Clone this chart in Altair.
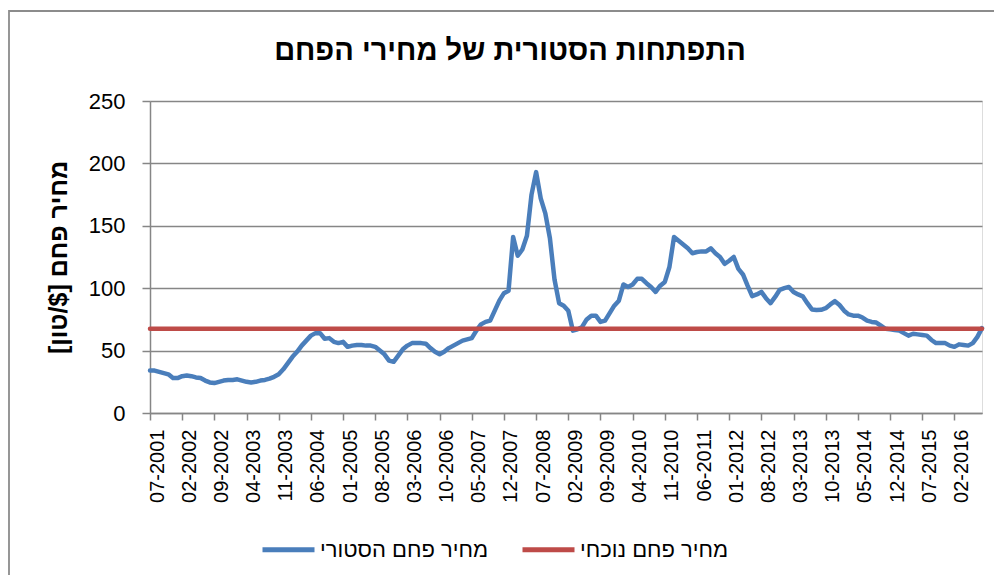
import altair as alt
import pandas as pd

# Categories: monthly, 07-2001 .. 08-2016
months = pd.date_range("2001-07-01", periods=182, freq="MS").strftime("%m-%Y").tolist()

x_tick_labels = [
    "07-2001", "02-2002", "09-2002", "04-2003", "11-2003", "06-2004", "01-2005",
    "08-2005", "03-2006", "10-2006", "05-2007", "12-2007", "07-2008", "02-2009",
    "09-2009", "04-2010", "11-2010", "06-2011", "01-2012", "08-2012", "03-2013",
    "10-2013", "05-2014", "12-2014", "07-2015", "02-2016",
]
y_tick_values = [0, 50, 100, 150, 200, 250]

historical = [
    34, 34, 33, 32, 31, 28, 28, 29.5, 30, 29.5,
    28.5, 28, 26, 24.5, 24, 25, 26, 26.5, 26.5, 27,
    26, 25, 24.5, 25, 26, 26.5, 27.5, 29, 31, 35,
    40, 45, 49, 54, 58, 62, 64, 64, 59.5, 60,
    57, 56, 57, 53, 54, 54.5, 54.5, 54, 54, 53,
    50, 47, 42, 41, 46, 51, 54, 56, 56, 56,
    55.5, 52, 49, 47, 49, 52, 54, 56, 58, 59,
    60, 66, 71, 73, 74, 82, 90, 96, 98, 141,
    126, 131, 142, 175, 193, 172, 160, 140, 107, 88,
    86, 82, 66, 67, 69, 75, 78, 78, 73, 74,
    80, 86, 90, 103, 101, 103, 107.5, 107.5, 104, 101,
    97, 102, 105, 117, 141, 138, 135, 132, 128, 129,
    129.5, 129.5, 132, 128, 125, 119.5, 122, 125, 115.5, 111,
    102, 93.6, 95, 97, 92, 88, 93, 98.7, 100, 101,
    97, 95, 93.5, 88, 83, 82.5, 82.7, 84, 87, 89.6,
    86.5, 82, 79, 78, 78, 76.5, 74, 73, 72.5, 70,
    67.5, 67, 66.5, 66, 64, 62, 63.5, 63, 62.5, 62,
    58.5, 56, 56, 56, 54, 53, 55, 54.5, 54, 56,
    61, 68,
]
current_price = 67.5

series_names = ["מחיר פחם הסטורי", "מחיר פחם נוכחי"]
series_colors = ["#4A7EBB", "#BE4B48"]

title_text = "התפתחות הסטורית של מחירי הפחם"
y_title = "מחיר פחם [$/טון]" + "\u200F"

FONT = "Liberation Sans"
GRAY = "#868686"

df = pd.DataFrame({
    "month": months + months,
    "price": historical + [current_price] * len(months),
    "series": [series_names[0]] * len(months) + [series_names[1]] * len(months),
})

lines = alt.Chart(df).mark_line(
    strokeWidth=4.5, strokeCap="round", strokeJoin="round"
).encode(
    x=alt.X(
        "month:O", sort=months,
        scale=alt.Scale(type="point", padding=0),
        axis=alt.Axis(
            values=x_tick_labels, title=None, labelAngle=270,
            labelFont=FONT, labelFontSize=20, labelColor="black",
            labelPadding=9, labelOverlap=False, labelOffset=7,
            domainColor=GRAY, domainWidth=1.5,
            tickColor=GRAY, tickWidth=1.5, tickSize=7, grid=False,
        ),
    ),
    y=alt.Y(
        "price:Q",
        scale=alt.Scale(domain=[0, 250], nice=False),
        axis=alt.Axis(
            values=y_tick_values, title=y_title,
            titleFont=FONT, titleFontSize=25, titleFontWeight="bold",
            titleColor="black", titleAngle=270, titleAlign="center",
            titleBaseline="middle", titleX=-92, titleY=156,
            labelFont=FONT, labelFontSize=22, labelColor="black",
            labelPadding=17,
            domainColor=GRAY, domainWidth=1.5,
            tickColor=GRAY, tickWidth=1.5, tickSize=8,
            grid=True, gridColor=GRAY, gridWidth=1.5,
        ),
    ),
    color=alt.Color(
        "series:N",
        scale=alt.Scale(domain=series_names, range=series_colors),
        sort=series_names,
        legend=alt.Legend(
            title=None, orient="none", legendX=110, legendY=420,
            direction="horizontal", symbolType="stroke",
            symbolSize=2704, symbolStrokeWidth=5,
            labelFont=FONT, labelFontSize=22, labelColor="black",
            labelOffset=3, labelLimit=400, columnPadding=23, padding=0,
        ),
    ),
)

frame = alt.Chart(alt.Data(values=[{}])).mark_rect(
    fillOpacity=0, stroke="#8C8C8C", strokeWidth=1.8, clip=False
).encode(
    x=alt.value(-141), x2=alt.value(870),
    y=alt.value(-90), y2=alt.value(510),
)

chart = alt.layer(frame, lines).properties(
    width=832, height=312,
    autosize=alt.AutoSizeParams(type="none"),
    padding={"left": 142, "top": 93, "right": 12, "bottom": 162},
    title=alt.TitleParams(
        text=title_text, font=FONT, fontSize=29, fontWeight="bold",
        color="black", anchor="middle", dx=-56, offset=-56, frame="group",
    ),
).configure_view(strokeWidth=0).configure(background="white")

chart.save("out.html", embed_options={"renderer": "svg", "actions": False})
